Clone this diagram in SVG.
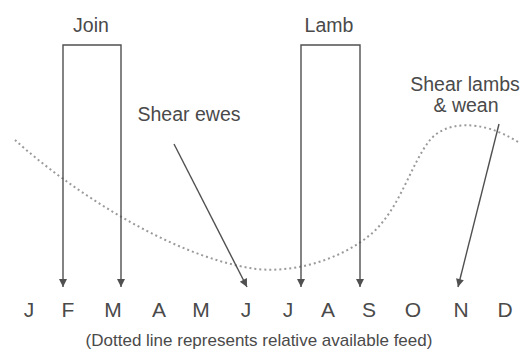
<svg xmlns="http://www.w3.org/2000/svg" width="522" height="357" viewBox="0 0 522 357">
<style>
.t{font-family:"Liberation Sans",Arial,sans-serif;fill:#4a4a4a}
.m{font-size:21px;text-anchor:middle}
.l{font-size:19.5px;text-anchor:middle}
.c{stroke:#505050;stroke-width:1.4;fill:none}
.feed{stroke:#9a9a9a;stroke-width:2;stroke-dasharray:2 3;fill:none}
</style>
<defs>
<marker id="ah" viewBox="0 0 10 10" refX="10" refY="5" markerWidth="13" markerHeight="8" markerUnits="userSpaceOnUse" orient="auto">
<path d="M0,0 L10,5 L0,10 z" fill="#505050"/>
</marker>
</defs>
<rect width="522" height="357" fill="#fff"/>
<g id="feed-line">
<path class="feed" d="M15,140 C70,190 170,255 250,268 C290,275 340,260 370,235 C400,210 410,165 430,140 C445,122 480,118 518,142"/>
</g>
<g id="connectors">
<path class="c" d="M92,45 H63 V287" marker-end="url(#ah)"/>
<path class="c" d="M92,45 H121 V287" marker-end="url(#ah)"/>
<path class="c" d="M330,45 H301 V287" marker-end="url(#ah)"/>
<path class="c" d="M330,45 H360 V287" marker-end="url(#ah)"/>
<path class="c" d="M174,144 L247,287" marker-end="url(#ah)"/>
<path class="c" d="M499,124 L458,287" marker-end="url(#ah)"/>
</g>
<g id="join"><text class="t l" x="91" y="32">Join</text></g>
<g id="lamb"><text class="t l" x="329" y="32">Lamb</text></g>
<g id="shear-ewes"><text class="t l" x="189" y="121">Shear ewes</text></g>
<g id="shear-lambs"><text class="t l" x="465" y="91">Shear lambs</text><text class="t l" x="466" y="112">&amp; wean</text></g>
<g id="months">
<text class="t m" x="29" y="317">J</text>
<text class="t m" x="68" y="317">F</text>
<text class="t m" x="113" y="317">M</text>
<text class="t m" x="159" y="317">A</text>
<text class="t m" x="201" y="317">M</text>
<text class="t m" x="246" y="317">J</text>
<text class="t m" x="288" y="317">J</text>
<text class="t m" x="328" y="317">A</text>
<text class="t m" x="369" y="317">S</text>
<text class="t m" x="413" y="317">O</text>
<text class="t m" x="461" y="317">N</text>
<text class="t m" x="505" y="317">D</text>
</g>
<g id="caption"><text class="t" x="259" y="346" font-size="17" text-anchor="middle">(Dotted line represents relative available feed)</text></g>
</svg>
